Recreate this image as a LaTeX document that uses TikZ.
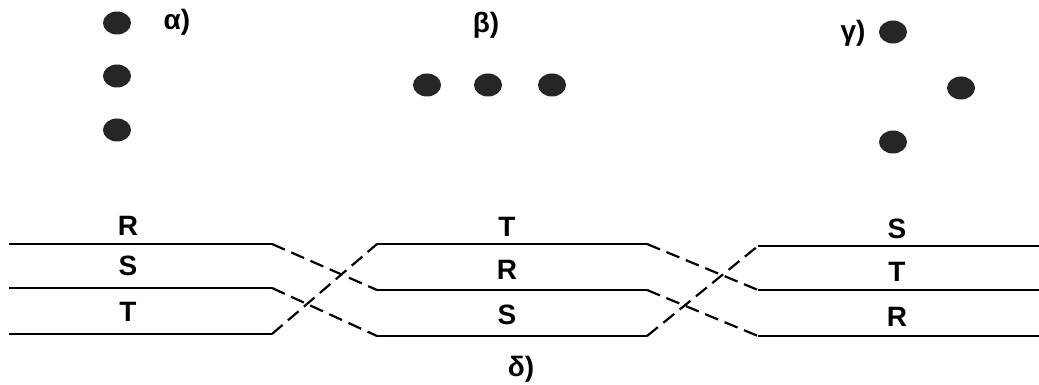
\documentclass[tikz,border=0pt]{standalone}
\usepackage{fontspec}
\setmainfont{Liberation Sans}
\usetikzlibrary{shapes.geometric}
\begin{document}
\begin{tikzpicture}[x=1pt,y=-1pt,
  dotc/.style={draw=none,fill=black!85,ellipse,minimum width=28pt,minimum height=23pt,inner sep=0pt},
  phase/.style={font=\fontsize{28}{28}\selectfont\bfseries,inner sep=0pt,anchor=center},
  glabel/.style={font=\fontsize{28}{28}\selectfont\bfseries,inner sep=0pt,anchor=center},
  wire/.style={line width=2.2pt,line join=round},
  dwire/.style={line width=2.2pt,dash pattern=on 14pt off 7pt}]
\useasboundingbox (0,0) rectangle (1039,385);
% dots
\node[dotc] (a1) at (117,23) {};
\node[dotc] (a2) at (117,76) {};
\node[dotc] (a3) at (117,130) {};
\node[dotc] (b1) at (427,85) {};
\node[dotc] (b2) at (488,85) {};
\node[dotc] (b3) at (552,85) {};
\node[dotc] (c1) at (893,32) {};
\node[dotc] (c2) at (961,88) {};
\node[dotc] (c3) at (893,142) {};
% greek labels
\node[glabel] (la) at (177,22) {α)};
\node[glabel] (lb) at (486,25) {β)};
\node[glabel] (lc) at (853,33) {γ)};
\node[glabel] (ld) at (521,369) {δ)};
% coordinates
\coordinate (L1s) at (9,244);  \coordinate (L1e) at (272,244);
\coordinate (L2s) at (9,288);  \coordinate (L2e) at (272,288);
\coordinate (L3s) at (9,334);  \coordinate (L3e) at (272,334);
\coordinate (M1s) at (377,244); \coordinate (M1e) at (647,244);
\coordinate (M2s) at (377,290); \coordinate (M2e) at (647,290);
\coordinate (M3s) at (377,336); \coordinate (M3e) at (647,336);
\coordinate (N1s) at (758,246); \coordinate (N1e) at (1039,246);
\coordinate (N2s) at (758,290); \coordinate (N2e) at (1039,290);
\coordinate (N3s) at (758,336); \coordinate (N3e) at (1039,336);
% solid lines
\draw[wire] (L1s) -- (L1e); \draw[wire] (L2s) -- (L2e); \draw[wire] (L3s) -- (L3e);
\draw[wire] (M1s) -- (M1e); \draw[wire] (M2s) -- (M2e); \draw[wire] (M3s) -- (M3e);
\draw[wire] (N1s) -- (N1e); \draw[wire] (N2s) -- (N2e); \draw[wire] (N3s) -- (N3e);
% transpositions
\draw[dwire] (L1e) -- (M2s);
\draw[dwire] (L2e) -- (M3s);
\draw[dwire] (L3e) -- (M1s);
\draw[dwire] (M1e) -- (N2s);
\draw[dwire] (M2e) -- (N3s);
\draw[dwire] (M3e) -- (N1s);
% phase labels
\node[phase] (r1) at (128,226) {R};
\node[phase] (s1) at (128,266) {S};
\node[phase] (t1) at (128,312) {T};
\node[phase] (t2) at (507,227) {T};
\node[phase] (r2) at (507,270) {R};
\node[phase] (s2) at (507,315) {S};
\node[phase] (s3) at (897,229) {S};
\node[phase] (t3) at (897,272) {T};
\node[phase] (r3) at (897,317) {R};
\end{tikzpicture}
\end{document}
